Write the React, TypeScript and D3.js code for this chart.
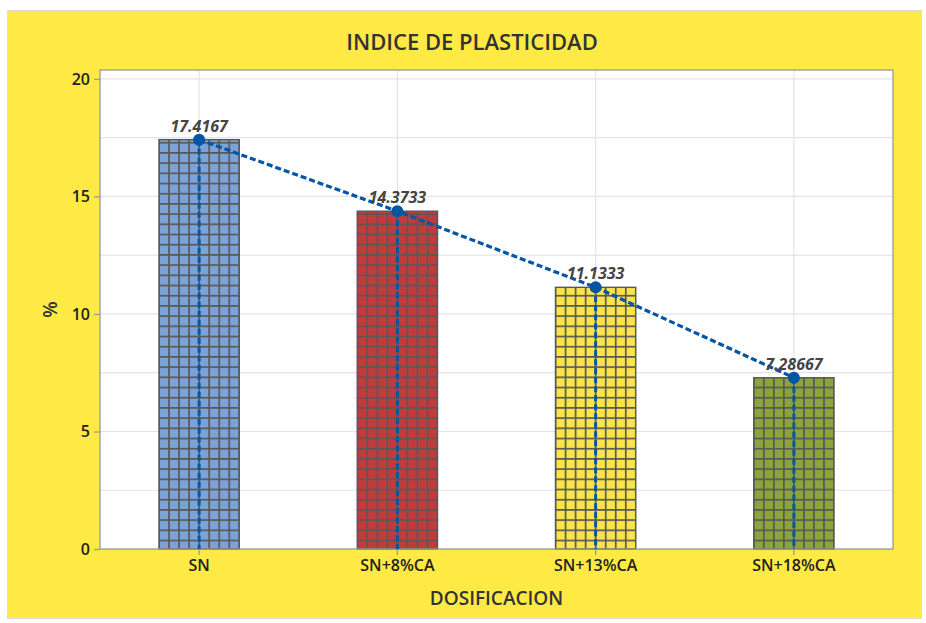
import React, { useRef, useEffect } from "react";
import * as d3 from "d3";

const categories = ["SN", "SN+8%CA", "SN+13%CA", "SN+18%CA"];
const values = [17.4167, 14.3733, 11.1333, 7.28667];
const valueLabels = ["17.4167", "14.3733", "11.1333", "7.28667"];
const barColors = ["#7BA3D8", "#C23B3A", "#FAE44A", "#8BA53C"];
const yTicks = [0, 5, 10, 15, 20];
const gridValues = [2.5, 5, 7.5, 10, 12.5, 15, 17.5, 20];

const App = () => {
  const svgRef = useRef<SVGSVGElement>(null);

  useEffect(() => {
    const svg = d3.select(svgRef.current);
    // clear previous render
    svg.selectAll("*").remove();

    const width = 926;
    const height = 623;
    const font = "'Open Sans', 'Noto Sans', sans-serif";
    const m = { left: 100, top: 70, right: 893, bottom: 549 };

    svg.attr("width", width).attr("height", height);

    // yellow panel
    svg.append("rect")
      .attr("x", 7.5).attr("y", 10.5)
      .attr("width", 914).attr("height", 608)
      .attr("fill", "#FFE944")
      .attr("stroke", "#dcdcdc");

    const x = d3.scaleBand().domain(categories).range([m.left, m.right]).padding(0);
    const y = d3.scaleLinear().domain([0, 20.38]).range([m.bottom, m.top]);
    const barW = x.bandwidth() * 0.405;

    // plot background
    svg.append("rect")
      .attr("x", m.left).attr("y", m.top)
      .attr("width", m.right - m.left).attr("height", m.bottom - m.top)
      .attr("fill", "#fff");

    // gridlines
    svg.append("g").selectAll("line").data(gridValues).enter().append("line")
      .attr("x1", m.left).attr("x2", m.right)
      .attr("y1", (d) => y(d)).attr("y2", (d) => y(d))
      .attr("stroke", "#e3e3e3").attr("stroke-width", 1.2);
    svg.append("g").selectAll("line").data(categories).enter().append("line")
      .attr("x1", (d) => x(d)! + x.bandwidth() / 2).attr("x2", (d) => x(d)! + x.bandwidth() / 2)
      .attr("y1", m.top).attr("y2", m.bottom)
      .attr("stroke", "#e3e3e3").attr("stroke-width", 1.2);

    // hatch patterns, one per bar
    const defs = svg.append("defs");
    const cw = barW / 8;
    const ch = 10.2;
    const lw = 1.7;
    categories.forEach((c, i) => {
      const bx = x(c)! + (x.bandwidth() - barW) / 2;
      const p = defs.append("pattern")
        .attr("id", `grid${i}`)
        .attr("patternUnits", "userSpaceOnUse")
        .attr("x", bx - lw / 2).attr("y", m.bottom + lw / 2)
        .attr("width", cw).attr("height", ch);
      p.append("rect").attr("width", cw).attr("height", ch).attr("fill", "#585858");
      p.append("rect")
        .attr("x", lw).attr("y", lw)
        .attr("width", cw - lw).attr("height", ch - lw)
        .attr("fill", barColors[i]);
    });

    // bars
    svg.append("g").selectAll("rect").data(values).enter().append("rect")
      .attr("x", (d, i) => x(categories[i])! + (x.bandwidth() - barW) / 2)
      .attr("y", (d) => y(d))
      .attr("width", barW)
      .attr("height", (d) => m.bottom - y(d))
      .attr("fill", (d, i) => `url(#grid${i})`)
      .attr("stroke", "#585858").attr("stroke-width", 1.4);

    // frame
    svg.append("rect")
      .attr("x", m.left).attr("y", m.top)
      .attr("width", m.right - m.left).attr("height", m.bottom - m.top)
      .attr("fill", "none").attr("stroke", "#999").attr("stroke-width", 1.3);

    const cx = (i: number) => x(categories[i])! + x.bandwidth() / 2;

    // vertical drop lines
    svg.append("g").selectAll("line").data(values).enter().append("line")
      .attr("x1", (d, i) => cx(i)).attr("x2", (d, i) => cx(i))
      .attr("y1", (d) => y(d)).attr("y2", m.bottom)
      .attr("stroke", "#0055A5").attr("stroke-width", 3)
      .attr("stroke-dasharray", "6,3");

    // connecting line
    const line = d3.line<number>().x((d, i) => cx(i)).y((d) => y(d));
    svg.append("path")
      .datum(values)
      .attr("d", line)
      .attr("fill", "none")
      .attr("stroke", "#0055A5").attr("stroke-width", 3.2)
      .attr("stroke-dasharray", "6,3");

    svg.append("g").selectAll("circle").data(values).enter().append("circle")
      .attr("cx", (d, i) => cx(i)).attr("cy", (d) => y(d)).attr("r", 6)
      .attr("fill", "#0055A5");

    // value labels
    svg.append("g").selectAll("text").data(values).enter().append("text")
      .attr("x", (d, i) => cx(i)).attr("y", (d) => y(d) - 8)
      .attr("text-anchor", "middle")
      .attr("font-family", font).attr("font-size", 16)
      .attr("font-weight", "bold").attr("font-style", "italic")
      .attr("fill", "#444")
      .text((d, i) => valueLabels[i]);

    // y axis
    const yAxis = svg.append("g").attr("transform", `translate(${m.left},0)`)
      .call(d3.axisLeft(y).tickValues(yTicks).tickSize(6).tickPadding(4));
    yAxis.select(".domain").remove();
    yAxis.selectAll("line").attr("stroke", "#999").attr("stroke-width", 1.3);
    yAxis.selectAll("text")
      .attr("font-family", font).attr("font-size", 16).attr("font-weight", 600).attr("fill", "#222");

    // x axis
    const xAxis = svg.append("g").attr("transform", `translate(0,${m.bottom})`)
      .call(d3.axisBottom(x).tickSize(6).tickPadding(5));
    xAxis.select(".domain").remove();
    xAxis.selectAll("line").attr("stroke", "#999").attr("stroke-width", 1.3);
    xAxis.selectAll("text")
      .attr("font-family", font).attr("font-size", 16).attr("font-weight", 600).attr("fill", "#222");

    // titles
    svg.append("text")
      .attr("x", 472).attr("y", 50)
      .attr("text-anchor", "middle")
      .attr("font-family", font).attr("font-size", 22).attr("font-weight", 600)
      .attr("fill", "#333")
      .text("INDICE DE PLASTICIDAD");

    svg.append("text")
      .attr("x", (m.left + m.right) / 2).attr("y", 605)
      .attr("text-anchor", "middle")
      .attr("font-family", font).attr("font-size", 19).attr("font-weight", 600)
      .attr("fill", "#333")
      .text("DOSIFICACION");

    svg.append("text")
      .attr("transform", `translate(57,${(m.top + m.bottom) / 2}) rotate(-90)`)
      .attr("text-anchor", "middle")
      .attr("font-family", font).attr("font-size", 19).attr("font-weight", 600)
      .attr("fill", "#333")
      .text("%");
  }, []);

  return (
    <div style={{ position: "absolute", left: 0, top: 0 }}>
      <svg ref={svgRef}></svg>
    </div>
  );
};

export default App;
